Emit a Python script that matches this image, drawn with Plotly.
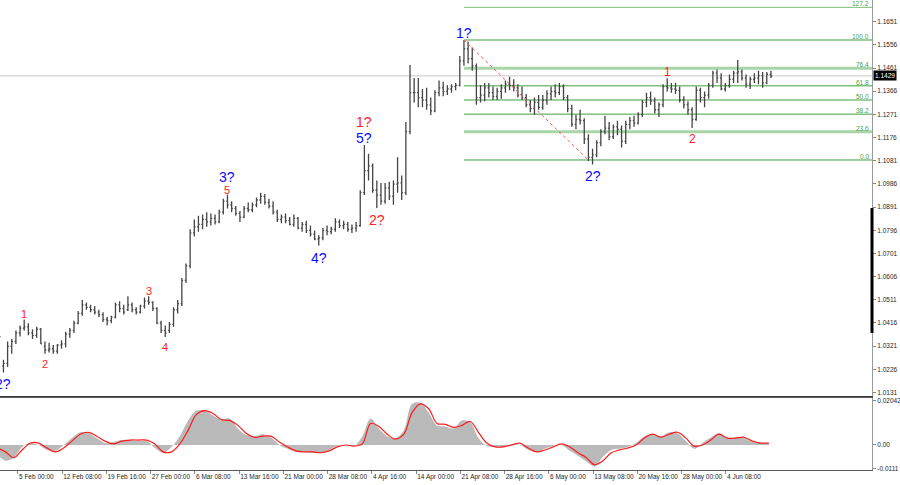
import plotly.graph_objects as go

# ---------------- data ----------------
days = [
    "2025-01-31",
    "2025-02-03", "2025-02-04", "2025-02-05", "2025-02-06", "2025-02-07",
    "2025-02-10", "2025-02-11", "2025-02-12", "2025-02-13", "2025-02-14",
    "2025-02-17", "2025-02-18", "2025-02-19", "2025-02-20", "2025-02-21",
    "2025-02-24", "2025-02-25", "2025-02-26", "2025-02-27", "2025-02-28",
    "2025-03-03", "2025-03-04", "2025-03-05", "2025-03-06", "2025-03-07",
    "2025-03-10", "2025-03-11", "2025-03-12", "2025-03-13", "2025-03-14",
    "2025-03-17", "2025-03-18", "2025-03-19", "2025-03-20", "2025-03-21",
    "2025-03-24", "2025-03-25", "2025-03-26", "2025-03-27", "2025-03-28",
    "2025-03-31", "2025-04-01", "2025-04-02", "2025-04-03", "2025-04-04",
    "2025-04-07", "2025-04-08", "2025-04-09", "2025-04-10", "2025-04-11",
    "2025-04-14", "2025-04-15", "2025-04-16", "2025-04-17", "2025-04-18",
    "2025-04-21", "2025-04-22", "2025-04-23", "2025-04-24", "2025-04-25",
    "2025-04-28", "2025-04-29", "2025-04-30", "2025-05-01", "2025-05-02",
    "2025-05-05", "2025-05-06", "2025-05-07", "2025-05-08", "2025-05-09",
    "2025-05-12", "2025-05-13", "2025-05-14", "2025-05-15", "2025-05-16",
    "2025-05-19", "2025-05-20", "2025-05-21", "2025-05-22", "2025-05-23",
    "2025-05-26", "2025-05-27", "2025-05-28", "2025-05-29", "2025-05-30",
    "2025-06-02", "2025-06-03", "2025-06-04", "2025-06-05", "2025-06-06",
    "2025-06-09", "2025-06-10", "2025-06-11",
]

# two bars per trading day (first and second half of the day)
opens = [
    1.0370, 1.0390,
    1.0240, 1.0250, 1.0320, 1.0340, 1.0375, 1.0395, 1.0400, 1.0375, 1.0365, 1.0390,
    1.0320, 1.0305, 1.0310, 1.0300, 1.0325, 1.0330, 1.0370, 1.0385, 1.0415, 1.0455,
    1.0490, 1.0480, 1.0470, 1.0460, 1.0450, 1.0430, 1.0425, 1.0440, 1.0490, 1.0475,
    1.0470, 1.0490, 1.0470, 1.0460, 1.0485, 1.0505, 1.0500, 1.0475, 1.0415, 1.0385,
    1.0385, 1.0410, 1.0470, 1.0495, 1.0590, 1.0650, 1.0785, 1.0810, 1.0820, 1.0840,
    1.0830, 1.0845, 1.0830, 1.0870, 1.0915, 1.0900, 1.0885, 1.0865, 1.0850, 1.0885,
    1.0880, 1.0900, 1.0920, 1.0935, 1.0910, 1.0895, 1.0870, 1.0840, 1.0850, 1.0835,
    1.0820, 1.0845, 1.0805, 1.0820, 1.0795, 1.0780, 1.0760, 1.0765, 1.0795, 1.0790,
    1.0800, 1.0830, 1.0815, 1.0820, 1.0800, 1.0805, 1.0815, 1.0950, 1.1040, 1.1060,
    1.0960, 1.0940, 1.0915, 1.0970, 1.0935, 1.0985, 1.0990, 1.0950, 1.1200, 1.1360,
    1.1360, 1.1340, 1.1330, 1.1310, 1.1285, 1.1360, 1.1380, 1.1365, 1.1375, 1.1385,
    1.1390, 1.1490, 1.1540, 1.1500, 1.1470, 1.1340, 1.1350, 1.1380, 1.1360, 1.1345,
    1.1365, 1.1380, 1.1395, 1.1390, 1.1380, 1.1350, 1.1340, 1.1310, 1.1295, 1.1320,
    1.1300, 1.1330, 1.1355, 1.1365, 1.1360, 1.1385, 1.1340, 1.1295, 1.1230, 1.1250,
    1.1245, 1.1170, 1.1095, 1.1105, 1.1155, 1.1200, 1.1215, 1.1180, 1.1220, 1.1210,
    1.1160, 1.1230, 1.1245, 1.1235, 1.1270, 1.1320, 1.1340, 1.1325, 1.1290, 1.1310,
    1.1385, 1.1380, 1.1375, 1.1370, 1.1330, 1.1310, 1.1290, 1.1250, 1.1370, 1.1340,
    1.1350, 1.1390, 1.1440, 1.1420, 1.1375, 1.1390, 1.1415, 1.1440, 1.1445, 1.1420,
    1.1395, 1.1415, 1.1420, 1.1430, 1.1400, 1.1435,
]
highs = [
    1.0410, 1.0414,
    1.0265, 1.0340, 1.0350, 1.0385, 1.0405, 1.0430, 1.0415, 1.0390, 1.0400, 1.0395,
    1.0340, 1.0335, 1.0325, 1.0330, 1.0345, 1.0380, 1.0395, 1.0425, 1.0465, 1.0510,
    1.0500, 1.0490, 1.0485, 1.0470, 1.0460, 1.0440, 1.0445, 1.0500, 1.0505, 1.0490,
    1.0525, 1.0500, 1.0480, 1.0490, 1.0520, 1.0525, 1.0505, 1.0480, 1.0425, 1.0405,
    1.0420, 1.0480, 1.0510, 1.0600, 1.0660, 1.0800, 1.0840, 1.0855, 1.0860, 1.0870,
    1.0865, 1.0860, 1.0880, 1.0925, 1.0942, 1.0915, 1.0895, 1.0875, 1.0895, 1.0910,
    1.0910, 1.0930, 1.0950, 1.0945, 1.0925, 1.0915, 1.0880, 1.0860, 1.0865, 1.0850,
    1.0860, 1.0850, 1.0830, 1.0835, 1.0815, 1.0795, 1.0775, 1.0805, 1.0815, 1.0810,
    1.0845, 1.0840, 1.0835, 1.0830, 1.0820, 1.0830, 1.0960, 1.1145, 1.1110, 1.1070,
    1.1000, 1.0990, 1.0990, 1.0995, 1.1000, 1.1095, 1.1020, 1.1240, 1.1473, 1.1420,
    1.1420, 1.1375, 1.1380, 1.1340, 1.1370, 1.1410, 1.1405, 1.1390, 1.1395, 1.1400,
    1.1510, 1.1576, 1.1570, 1.1545, 1.1480, 1.1390, 1.1400, 1.1400, 1.1385, 1.1380,
    1.1395, 1.1410, 1.1425, 1.1415, 1.1395, 1.1385, 1.1355, 1.1330, 1.1340, 1.1350,
    1.1350, 1.1370, 1.1385, 1.1395, 1.1400, 1.1395, 1.1350, 1.1310, 1.1270, 1.1290,
    1.1255, 1.1190, 1.1130, 1.1165, 1.1210, 1.1265, 1.1240, 1.1230, 1.1245, 1.1225,
    1.1245, 1.1260, 1.1265, 1.1280, 1.1330, 1.1360, 1.1365, 1.1340, 1.1320, 1.1395,
    1.1419, 1.1400, 1.1400, 1.1385, 1.1345, 1.1325, 1.1300, 1.1385, 1.1380, 1.1365,
    1.1400, 1.1450, 1.1455, 1.1440, 1.1400, 1.1435, 1.1450, 1.1494, 1.1455, 1.1435,
    1.1425, 1.1440, 1.1450, 1.1445, 1.1445, 1.1450,
]
lows = [
    1.0355, 1.0344,
    1.0213, 1.0235, 1.0290, 1.0330, 1.0360, 1.0385, 1.0365, 1.0350, 1.0355, 1.0330,
    1.0290, 1.0295, 1.0290, 1.0290, 1.0310, 1.0315, 1.0355, 1.0375, 1.0410, 1.0445,
    1.0470, 1.0460, 1.0450, 1.0440, 1.0420, 1.0405, 1.0415, 1.0435, 1.0460, 1.0450,
    1.0465, 1.0460, 1.0450, 1.0455, 1.0475, 1.0490, 1.0465, 1.0410, 1.0375, 1.0358,
    1.0375, 1.0400, 1.0455, 1.0485, 1.0580, 1.0640, 1.0770, 1.0790, 1.0800, 1.0810,
    1.0815, 1.0820, 1.0825, 1.0860, 1.0885, 1.0870, 1.0855, 1.0830, 1.0845, 1.0870,
    1.0870, 1.0890, 1.0905, 1.0900, 1.0885, 1.0860, 1.0830, 1.0825, 1.0825, 1.0815,
    1.0810, 1.0800, 1.0790, 1.0785, 1.0770, 1.0755, 1.0733, 1.0755, 1.0775, 1.0780,
    1.0790, 1.0805, 1.0800, 1.0790, 1.0785, 1.0790, 1.0810, 1.0940, 1.1000, 1.0950,
    1.0887, 1.0900, 1.0905, 1.0920, 1.0900, 1.0950, 1.0920, 1.0940, 1.1190, 1.1320,
    1.1300, 1.1300, 1.1290, 1.1268, 1.1280, 1.1345, 1.1345, 1.1350, 1.1360, 1.1370,
    1.1385, 1.1470, 1.1480, 1.1450, 1.1310, 1.1320, 1.1325, 1.1340, 1.1330, 1.1330,
    1.1335, 1.1360, 1.1370, 1.1365, 1.1340, 1.1330, 1.1300, 1.1280, 1.1270, 1.1290,
    1.1290, 1.1310, 1.1330, 1.1340, 1.1350, 1.1330, 1.1280, 1.1220, 1.1210, 1.1230,
    1.1150, 1.1080, 1.1066, 1.1095, 1.1140, 1.1190, 1.1165, 1.1170, 1.1185, 1.1135,
    1.1150, 1.1210, 1.1220, 1.1230, 1.1260, 1.1300, 1.1310, 1.1275, 1.1260, 1.1300,
    1.1365, 1.1360, 1.1355, 1.1320, 1.1295, 1.1270, 1.1215, 1.1245, 1.1320, 1.1300,
    1.1335, 1.1380, 1.1400, 1.1370, 1.1365, 1.1380, 1.1400, 1.1400, 1.1410, 1.1380,
    1.1375, 1.1400, 1.1395, 1.1380, 1.1395, 1.1420,
]
closes = [
    1.0390, 1.0360,
    1.0250, 1.0320, 1.0340, 1.0375, 1.0395, 1.0400, 1.0375, 1.0365, 1.0390, 1.0330,
    1.0305, 1.0310, 1.0300, 1.0325, 1.0330, 1.0370, 1.0385, 1.0415, 1.0455, 1.0490,
    1.0480, 1.0470, 1.0460, 1.0450, 1.0430, 1.0425, 1.0440, 1.0490, 1.0475, 1.0460,
    1.0490, 1.0470, 1.0460, 1.0485, 1.0505, 1.0500, 1.0475, 1.0415, 1.0385, 1.0375,
    1.0410, 1.0470, 1.0495, 1.0590, 1.0650, 1.0785, 1.0810, 1.0820, 1.0840, 1.0830,
    1.0845, 1.0830, 1.0870, 1.0915, 1.0900, 1.0885, 1.0865, 1.0850, 1.0885, 1.0880,
    1.0900, 1.0920, 1.0935, 1.0910, 1.0895, 1.0870, 1.0840, 1.0850, 1.0835, 1.0820,
    1.0845, 1.0805, 1.0820, 1.0795, 1.0780, 1.0760, 1.0765, 1.0795, 1.0790, 1.0800,
    1.0830, 1.0815, 1.0820, 1.0800, 1.0805, 1.0815, 1.0950, 1.1040, 1.1060, 1.0960,
    1.0940, 1.0915, 1.0970, 1.0935, 1.0985, 1.0990, 1.0950, 1.1200, 1.1360, 1.1360,
    1.1340, 1.1330, 1.1310, 1.1285, 1.1360, 1.1380, 1.1365, 1.1375, 1.1385, 1.1390,
    1.1490, 1.1540, 1.1500, 1.1470, 1.1340, 1.1350, 1.1380, 1.1360, 1.1345, 1.1365,
    1.1380, 1.1395, 1.1390, 1.1380, 1.1350, 1.1340, 1.1310, 1.1295, 1.1320, 1.1300,
    1.1330, 1.1355, 1.1365, 1.1360, 1.1385, 1.1340, 1.1295, 1.1230, 1.1250, 1.1245,
    1.1170, 1.1095, 1.1105, 1.1155, 1.1200, 1.1215, 1.1180, 1.1220, 1.1210, 1.1160,
    1.1230, 1.1245, 1.1235, 1.1270, 1.1320, 1.1340, 1.1325, 1.1290, 1.1310, 1.1385,
    1.1380, 1.1375, 1.1370, 1.1330, 1.1310, 1.1290, 1.1250, 1.1370, 1.1340, 1.1350,
    1.1390, 1.1440, 1.1420, 1.1375, 1.1390, 1.1415, 1.1440, 1.1445, 1.1420, 1.1395,
    1.1415, 1.1420, 1.1430, 1.1400, 1.1435, 1.1429,
]

# MACD (one reading per day): grey histogram (main line) and red signal line
macd_hist = [
    -0.0045,
    -0.0073, -0.0059, -0.0009, 0.0009, 0.0000,
    -0.0023, -0.0027, 0.0000, 0.0032, 0.0059,
    0.0055, 0.0032, 0.0009, 0.0014, 0.0023,
    0.0023, 0.0018, 0.0018, -0.0014, -0.0036,
    -0.0009, 0.0041, 0.0114, 0.0159, 0.0159,
    0.0137, 0.0118, 0.0123, 0.0077, 0.0046,
    0.0041, 0.0050, 0.0036, 0.0000, -0.0018,
    -0.0032, -0.0032, -0.0036, -0.0036, -0.0023,
    -0.0005, 0.0000, -0.0005, 0.0041, 0.0123,
    0.0077, 0.0041, 0.0032, 0.0068, 0.0191,
    0.0196, 0.0150, 0.0091, 0.0086, 0.0077,
    0.0114, 0.0105, 0.0032, -0.0005, -0.0009,
    -0.0009, 0.0005, 0.0000, -0.0023, -0.0032,
    -0.0018, -0.0005, 0.0000, -0.0027, -0.0050,
    -0.0077, -0.0100, -0.0055, -0.0023, -0.0018,
    -0.0009, 0.0009, 0.0041, 0.0050, 0.0041,
    0.0059, 0.0055, 0.0018, -0.0018, 0.0009,
    0.0036, 0.0055, 0.0032, 0.0036, 0.0032,
    0.0014, 0.0009, 0.0009,
]
macd_signal = [
    -0.0014,
    -0.0032, -0.0059, -0.0023, 0.0009, 0.0009,
    -0.0014, -0.0032, -0.0014, 0.0018, 0.0050,
    0.0059, 0.0041, 0.0018, 0.0005, 0.0018,
    0.0023, 0.0023, 0.0023, 0.0005, -0.0032,
    -0.0032, 0.0005, 0.0068, 0.0141, 0.0159,
    0.0146, 0.0118, 0.0114, 0.0091, 0.0055,
    0.0036, 0.0041, 0.0041, 0.0014, -0.0009,
    -0.0027, -0.0032, -0.0032, -0.0036, -0.0027,
    -0.0009, 0.0000, -0.0005, 0.0005, 0.0100,
    0.0086, 0.0050, 0.0027, 0.0050, 0.0150,
    0.0191, 0.0168, 0.0100, 0.0096, 0.0082,
    0.0091, 0.0109, 0.0059, 0.0009, -0.0009,
    -0.0009, 0.0000, 0.0009, -0.0014, -0.0032,
    -0.0023, -0.0009, 0.0005, -0.0009, -0.0036,
    -0.0059, -0.0091, -0.0073, -0.0036, -0.0023,
    -0.0014, 0.0000, 0.0032, 0.0050, 0.0036,
    0.0050, 0.0059, 0.0032, -0.0005, 0.0000,
    0.0023, 0.0050, 0.0032, 0.0032, 0.0036,
    0.0018, 0.0009, 0.0009,
]

price_ticks = [1.0131, 1.0226, 1.0321, 1.0416, 1.0511, 1.0606, 1.0701, 1.0796,
               1.0891, 1.0986, 1.1081, 1.1176, 1.1271, 1.1366, 1.1461, 1.1556,
               1.1651, 1.1746]
macd_tick_values = [0.02042, 0.0, -0.0111]
macd_tick_labels = ["0.02042", "0.00", "-0.0111"]

time_tick_values = [
    "2025-02-05 00:00", "2025-02-12 08:00", "2025-02-19 16:00", "2025-02-27 00:00",
    "2025-03-06 08:00", "2025-03-13 16:00", "2025-03-21 00:00", "2025-03-28 08:00",
    "2025-04-04 16:00", "2025-04-14 00:00", "2025-04-21 08:00", "2025-04-28 16:00",
    "2025-05-06 00:00", "2025-05-13 08:00", "2025-05-20 16:00", "2025-05-28 00:00",
    "2025-06-04 08:00",
]
time_tick_labels = [
    "5 Feb 00:00", "12 Feb 08:00", "19 Feb 16:00", "27 Feb 00:00",
    "6 Mar 08:00", "13 Mar 16:00", "21 Mar 00:00", "28 Mar 08:00",
    "4 Apr 16:00", "14 Apr 00:00", "21 Apr 08:00", "28 Apr 16:00",
    "6 May 00:00", "13 May 08:00", "20 May 16:00", "28 May 00:00",
    "4 Jun 08:00",
]

current_price = 1.1429

# Fibonacci grid (anchored at the "1?" top and the "2?" low)
fib_high = 1.1576
fib_low = 1.1084
fib_high_bar = 113
fib_low_bar = 143
fib_levels = [0.0, 23.6, 38.2, 50.0, 61.8, 76.4, 100.0, 127.2]

# wave marks: text, bar index, side of the bar, colour
wave_texts = ["2?", "1", "2", "3", "4", "5", "3?", "4?", "5?", "1?", "2?", "1?", "2?", "1", "2"]
wave_bars = [2, 7, 12, 37, 41, 56, 56, 78, 89, 89, 92, 113, 144, 162, 168]
wave_sides = ["below", "above", "below", "above", "below", "above", "above", "below",
              "above", "above", "below", "above", "below", "above", "below"]
wave_colors = ["blue", "red", "red", "red", "red", "red", "blue", "blue",
               "blue", "red", "red", "blue", "blue", "red", "red"]
wave_stack = [0, 0, 0, 0, 0, 0, 11, 0, 0, 16, 0, 0, 0, 0, 0]

# ---------------- figure ----------------
bar_times = [f"{d} {h}" for d in days for h in ("06:00", "18:00")]
macd_times = [f"{d} 12:00" for d in days]
x_range = ["2025-01-31 20:00", "2025-06-27 22:20"]
breaks = [dict(bounds=["sat", "mon"])]

FONT = "Liberation Sans, Arial, sans-serif"
BLUE = "#0a0aff"
RED = "#ff2222"
GREEN = "#3f9f3f"

fig = go.Figure()
fig.add_trace(go.Ohlc(
    x=bar_times, open=opens, high=highs, low=lows, close=closes,
    increasing=dict(line=dict(color="#454545", width=1.3)),
    decreasing=dict(line=dict(color="#454545", width=1.3)),
    tickwidth=0.3, hoverinfo="skip", showlegend=False,
    xaxis="x", yaxis="y"))
fig.add_trace(go.Scatter(
    x=macd_times, y=macd_hist, mode="lines",
    line=dict(width=0, shape="spline", color="#b8b8b8"),
    fill="tozeroy", fillcolor="#bababa", hoverinfo="skip", showlegend=False,
    xaxis="x2", yaxis="y2"))
fig.add_trace(go.Scatter(
    x=macd_times, y=macd_signal, mode="lines",
    line=dict(width=1.2, shape="spline", color="#ff1a1a"),
    hoverinfo="skip", showlegend=False, xaxis="x2", yaxis="y2"))

shapes = []
annotations = []

# current price line
shapes.append(dict(type="line", xref="paper", yref="y", x0=0, x1=1,
                   y0=current_price, y1=current_price,
                   line=dict(color="#c8c8c8", width=1), layer="below"))

# fibonacci levels
for lvl in fib_levels:
    p = fib_low + lvl / 100.0 * (fib_high - fib_low)
    if lvl in (23.6, 76.4):
        col, w = "#a9d6a9", 3
    elif lvl == 127.2:
        col, w = "#7cc47c", 1
    else:
        col, w = GREEN, 1
    shapes.append(dict(type="line", xref="x", yref="y",
                       x0=bar_times[fib_high_bar], x1=x_range[1], y0=p, y1=p,
                       line=dict(color=col, width=w), layer="below"))
    annotations.append(dict(x=x_range[1], y=p, xref="x", yref="y",
                            text=f"{lvl:.1f}", showarrow=False,
                            xanchor="right", yanchor="bottom", xshift=-1, yshift=-2,
                            font=dict(family=FONT, size=6.5, color="#4aa24a")))

# red dotted trend line of the fib tool
shapes.append(dict(type="line", xref="x", yref="y",
                   x0=bar_times[fib_high_bar], y0=fib_high,
                   x1=bar_times[fib_low_bar], y1=fib_low,
                   line=dict(color="#ff5050", width=1, dash="dot")))

# black marker on the price scale
shapes.append(dict(type="line", xref="paper", yref="y", x0=1, x1=1,
                   y0=1.0375, y1=1.0887, line=dict(color="black", width=3)))

# wave labels
for t, b, s, c, st in zip(wave_texts, wave_bars, wave_sides, wave_colors, wave_stack):
    big = "?" in t
    size = 14 if big else (12 if b > 150 else 11)
    color = BLUE if c == "blue" else RED
    if s == "above":
        y, ya, ys = highs[b], "bottom", -3 + st
    else:
        y, ya, ys = lows[b], "top", -2
    annotations.append(dict(x=bar_times[b], y=y, xref="x", yref="y", text=t,
                            showarrow=False, xanchor="center", yanchor=ya, yshift=ys,
                            font=dict(family=FONT, size=size, color=color)))

# current price box
annotations.append(dict(x=1, y=current_price, xref="paper", yref="y",
                        text=f"{current_price:.4f}", showarrow=False,
                        xanchor="left", yanchor="middle", xshift=1,
                        bgcolor="black", borderpad=1,
                        font=dict(family=FONT, size=6.5, color="white")))

H = 470.0
fig.update_layout(
    width=900, height=485,
    margin=dict(l=0, r=28, t=0, b=15),
    paper_bgcolor="white", plot_bgcolor="white",
    showlegend=False,
    font=dict(family=FONT, size=6.5, color="#1e1e1e"),
    shapes=shapes, annotations=annotations,
    xaxis=dict(domain=[0, 1], anchor="y", range=x_range, rangebreaks=breaks,
               showticklabels=False, ticks="", showgrid=False, zeroline=False,
               showline=True, linecolor="#3c3c3c", linewidth=1,
               rangeslider=dict(visible=False)),
    yaxis=dict(domain=[74 / H, 1], anchor="x", side="right",
               range=[1.01163, 1.1740], tickvals=price_ticks, tickformat=".4f",
               ticks="outside", ticklen=3, tickcolor="#888888",
               showgrid=False, zeroline=False,
               showline=True, linecolor="#9a9a9a", linewidth=1),
    xaxis2=dict(domain=[0, 1], anchor="y2", range=x_range, rangebreaks=breaks,
                matches="x",
                tickvals=time_tick_values, ticktext=time_tick_labels,
                ticks="outside", ticklen=3, tickcolor="#888888",
                ticklabelposition="outside right", tickangle=0,
                showgrid=False, zeroline=False,
                showline=True, mirror=True, linecolor="#5a5a5a", linewidth=1),
    yaxis2=dict(domain=[0, 72 / H], anchor="x2", side="right",
                range=[-0.0116, 0.0218], tickvals=macd_tick_values,
                ticktext=macd_tick_labels,
                ticks="outside", ticklen=3, tickcolor="#888888",
                showgrid=False, zeroline=False,
                showline=True, linecolor="#9a9a9a", linewidth=1),
)

fig.write_html("out.html",
               config={"displayModeBar": False},
               post_script="document.body.style.margin='0';document.body.style.padding='0';")
